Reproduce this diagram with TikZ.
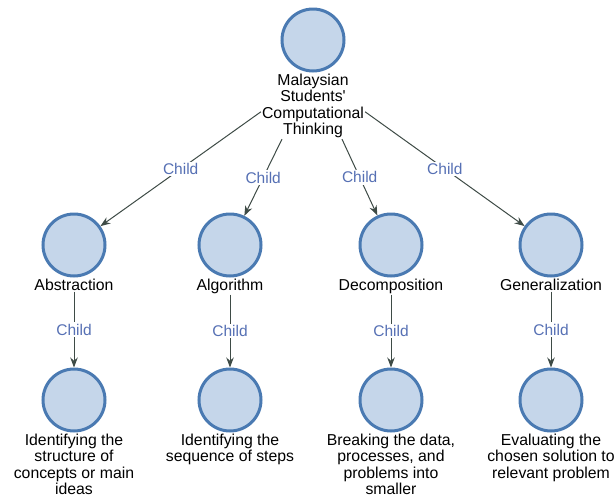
\documentclass[tikz,border=0pt]{standalone}
\usepackage{fontspec}
\setmainfont{Liberation Sans}
\usepackage{tikz}
\usetikzlibrary{positioning, arrows.meta}
\definecolor{circfill}{HTML}{C5D6EA}
\definecolor{circline}{HTML}{4A7AB2}
\definecolor{edgecol}{HTML}{3E4B46}
\definecolor{childcol}{HTML}{5670B4}
\tikzset{
	>={Stealth[length=10pt,width=7.5pt]}, % Punta de las flechas
	concept/.style={circle, draw=circline, fill=circfill, line width=3pt, minimum size=62pt, inner sep=0pt}, % Circulos
	caption/.style={align=center, inner sep=1pt, text=black, font=\fontsize{15.8}{16.5}\selectfont}, % Texto bajo los circulos
	link/.style={->, draw=edgecol, line width=1pt}, % Aristas
	childlbl/.style={fill=white, text=childcol, inner sep=1.5pt, font=\fontsize{15.5}{16.5}\selectfont} % Etiqueta de arista
}

\begin{document}
\begin{tikzpicture}[x=1pt, y=-1pt]
	\useasboundingbox (0,0) rectangle (614,501);
	\node[concept] (cmt) at (313,40) {};
	\node[caption, below=0pt of cmt] (cmtl) {Malaysian\\Students\textquotesingle\\Computational\\Thinking};

	\node[concept] (abs) at (74,245) {};
	\node[caption, below=0pt of abs] (absl) {Abstraction};
	\node[concept] (alg) at (230,245) {};
	\node[caption, below=0pt of alg] (algl) {Algorithm};
	\node[concept] (dec) at (391,245) {};
	\node[caption, below=0pt of dec] (decl) {Decomposition};
	\node[concept] (gen) at (551,245) {};
	\node[caption, below=0pt of gen] (genl) {Generalization};

	\node[concept] (absd) at (74,400) {};
	\node[caption, below=0pt of absd] (absdl) {Identifying the\\structure of\\concepts or main\\ideas};
	\node[concept] (algd) at (230,400) {};
	\node[caption, below=0pt of algd] (algdl) {Identifying the\\sequence of steps};
	\node[concept] (decd) at (391,400) {};
	\node[caption, below=0pt of decd] (decdl) {Breaking the data,\\processes, and\\problems into\\smaller};
	\node[concept] (gend) at (551,400) {};
	\node[caption, below=0pt of gend] (gendl) {Evaluating the\\chosen solution to\\relevant problem};

	\draw[link] ([yshift=-6pt]cmtl.west) -- node[childlbl]{Child} (abs);
	\draw[link] ([xshift=-31pt]cmtl.south) -- node[childlbl]{Child} (alg);
	\draw[link] ([xshift=29pt]cmtl.south) -- node[childlbl]{Child} (dec);
	\draw[link] ([yshift=-6pt]cmtl.east) -- node[childlbl]{Child} (gen);

	\draw[link] (absl) -- node[childlbl]{Child} (absd);
	\draw[link] (algl) -- node[childlbl]{Child} (algd);
	\draw[link] (decl) -- node[childlbl]{Child} (decd);
	\draw[link] (genl) -- node[childlbl]{Child} (gend);
\end{tikzpicture}
\end{document}
